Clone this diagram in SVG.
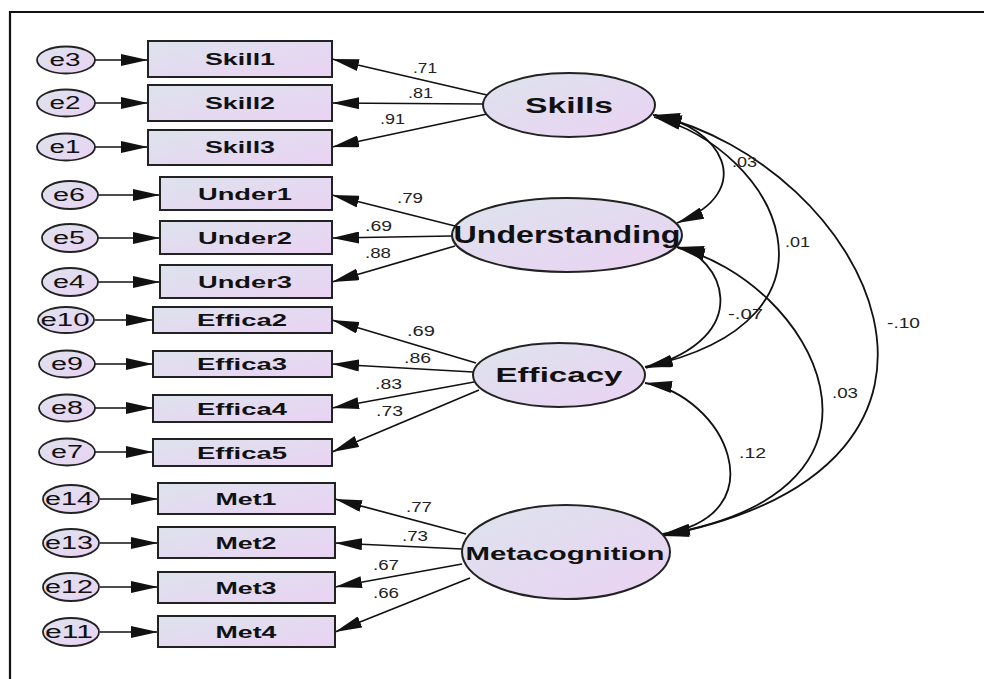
<svg xmlns="http://www.w3.org/2000/svg" width="984" height="679" viewBox="0 0 984 679">
<defs>
<linearGradient id="g" x1="0" y1="0" x2="1" y2="1">
<stop offset="0" stop-color="#dde3ec"/>
<stop offset="1" stop-color="#ead2f4"/>
</linearGradient>
<marker id="ah" viewBox="0 0 27 12" refX="27" refY="6" markerWidth="27" markerHeight="12" markerUnits="userSpaceOnUse" orient="auto-start-reverse">
<path d="M0,0 L27,6 L0,12 Z" fill="#111"/>
</marker>
</defs>
<style>
.box{fill:url(#g);stroke:#222;stroke-width:2}
.lat{fill:url(#g);stroke:#222;stroke-width:2}
.err{fill:url(#g);stroke:#222;stroke-width:1.8}
.ind{font-family:"Liberation Sans",Arial,sans-serif;font-weight:bold;font-size:17px;fill:#111;text-anchor:middle}
.lt{font-family:"Liberation Sans",Arial,sans-serif;font-weight:bold;fill:#111;text-anchor:middle}
.et{font-family:"Liberation Sans",Arial,sans-serif;font-size:18px;fill:#111;text-anchor:middle}
.num{font-family:"Liberation Sans",Arial,sans-serif;font-size:14px;fill:#222}
.ln{stroke:#111;stroke-width:1.7;fill:none;marker-end:url(#ah)}
.cv{stroke:#111;stroke-width:1.8;fill:none;marker-start:url(#ah);marker-end:url(#ah)}
</style>
<rect width="984" height="679" fill="#fff"/>
<path d="M10,679 L10,12 L984,12" fill="none" stroke="#111" stroke-width="2.2"/>

<g id="connectors">
<line class="ln" x1="95" y1="60" x2="148" y2="60"/>
<line class="ln" x1="95" y1="103" x2="148" y2="103"/>
<line class="ln" x1="95" y1="147" x2="148" y2="147"/>
<line class="ln" x1="98" y1="195" x2="160" y2="195"/>
<line class="ln" x1="98" y1="238" x2="160" y2="238"/>
<line class="ln" x1="98" y1="282" x2="160" y2="282"/>
<line class="ln" x1="95" y1="320" x2="153" y2="320"/>
<line class="ln" x1="95" y1="364" x2="153" y2="364"/>
<line class="ln" x1="95" y1="408" x2="153" y2="408"/>
<line class="ln" x1="95" y1="452" x2="153" y2="452"/>
<line class="ln" x1="100" y1="499" x2="158" y2="499"/>
<line class="ln" x1="100" y1="543" x2="158" y2="543"/>
<line class="ln" x1="100" y1="587" x2="158" y2="587"/>
<line class="ln" x1="100" y1="632" x2="158" y2="632"/>

<line class="ln" x1="487" y1="95" x2="332" y2="59"/>
<line class="ln" x1="483" y1="104" x2="332" y2="103"/>
<line class="ln" x1="487" y1="114" x2="332" y2="147"/>
<line class="ln" x1="455" y1="226" x2="332" y2="195"/>
<line class="ln" x1="452" y1="236" x2="332" y2="238"/>
<line class="ln" x1="455" y1="246" x2="332" y2="282"/>
<line class="ln" x1="476" y1="363" x2="332" y2="320"/>
<line class="ln" x1="473" y1="372" x2="332" y2="364"/>
<line class="ln" x1="474" y1="382" x2="332" y2="408"/>
<line class="ln" x1="479" y1="390" x2="332" y2="452"/>
<line class="ln" x1="466" y1="534" x2="335" y2="499"/>
<line class="ln" x1="462" y1="549" x2="335" y2="543"/>
<line class="ln" x1="462" y1="564" x2="335" y2="587"/>
<line class="ln" x1="470" y1="578" x2="335" y2="632"/>

<path class="cv" d="M653,115 C720,125 760,190 677,223"/>
<path class="cv" d="M654,117 C778,150 862,320 645,367"/>
<path class="cv" d="M677,247 C720,255 760,335 646,368"/>
<path class="cv" d="M655,115 C865,165 1025,465 662,536"/>
<path class="cv" d="M678,248 C810,280 930,490 662,535"/>
<path class="cv" d="M645,383 C725,395 780,515 663,534"/>

<text class="num" x="413" y="73" textLength="24" lengthAdjust="spacingAndGlyphs">.71</text>
<text class="num" x="408" y="98" textLength="25" lengthAdjust="spacingAndGlyphs">.81</text>
<text class="num" x="380" y="124" textLength="25" lengthAdjust="spacingAndGlyphs">.91</text>
<text class="num" x="397" y="203" textLength="26" lengthAdjust="spacingAndGlyphs">.79</text>
<text class="num" x="365" y="231" textLength="27" lengthAdjust="spacingAndGlyphs">.69</text>
<text class="num" x="365" y="258" textLength="26" lengthAdjust="spacingAndGlyphs">.88</text>
<text class="num" x="407" y="336" textLength="28" lengthAdjust="spacingAndGlyphs">.69</text>
<text class="num" x="404" y="363" textLength="27" lengthAdjust="spacingAndGlyphs">.86</text>
<text class="num" x="375" y="389" textLength="27" lengthAdjust="spacingAndGlyphs">.83</text>
<text class="num" x="376" y="416" textLength="27" lengthAdjust="spacingAndGlyphs">.73</text>
<text class="num" x="406" y="512" textLength="26" lengthAdjust="spacingAndGlyphs">.77</text>
<text class="num" x="402" y="541" textLength="26" lengthAdjust="spacingAndGlyphs">.73</text>
<text class="num" x="373" y="570" textLength="26" lengthAdjust="spacingAndGlyphs">.67</text>
<text class="num" x="373" y="598" textLength="26" lengthAdjust="spacingAndGlyphs">.66</text>

<text class="num" x="732" y="167" textLength="25" lengthAdjust="spacingAndGlyphs">.03</text>
<text class="num" x="785" y="247" textLength="25" lengthAdjust="spacingAndGlyphs">.01</text>
<text class="num" x="728" y="319" textLength="35" lengthAdjust="spacingAndGlyphs">-.07</text>
<text class="num" x="887" y="328" textLength="33" lengthAdjust="spacingAndGlyphs">-.10</text>
<text class="num" x="832" y="398" textLength="26" lengthAdjust="spacingAndGlyphs">.03</text>
<text class="num" x="739" y="458" textLength="27" lengthAdjust="spacingAndGlyphs">.12</text>
</g>

<g id="e3"><ellipse class="err" cx="66" cy="60" rx="29" ry="13.5"/><text class="et" x="65" y="66" textLength="31" lengthAdjust="spacingAndGlyphs">e3</text></g>
<g id="e2"><ellipse class="err" cx="66" cy="103" rx="29" ry="13.5"/><text class="et" x="65" y="109" textLength="31" lengthAdjust="spacingAndGlyphs">e2</text></g>
<g id="e1"><ellipse class="err" cx="66" cy="147" rx="29" ry="13.5"/><text class="et" x="65" y="153" textLength="31" lengthAdjust="spacingAndGlyphs">e1</text></g>
<g id="e6"><ellipse class="err" cx="70" cy="195" rx="28" ry="14"/><text class="et" x="69" y="201" textLength="32" lengthAdjust="spacingAndGlyphs">e6</text></g>
<g id="e5"><ellipse class="err" cx="70" cy="238" rx="28" ry="14"/><text class="et" x="69" y="244" textLength="32" lengthAdjust="spacingAndGlyphs">e5</text></g>
<g id="e4"><ellipse class="err" cx="70" cy="282" rx="28" ry="14"/><text class="et" x="69" y="288" textLength="32" lengthAdjust="spacingAndGlyphs">e4</text></g>
<g id="e10"><ellipse class="err" cx="66" cy="320" rx="28" ry="13"/><text class="et" x="65" y="326" textLength="49" lengthAdjust="spacingAndGlyphs">e10</text></g>
<g id="e9"><ellipse class="err" cx="67" cy="364" rx="28" ry="13.5"/><text class="et" x="67" y="370" textLength="32" lengthAdjust="spacingAndGlyphs">e9</text></g>
<g id="e8"><ellipse class="err" cx="67" cy="408" rx="28" ry="13.5"/><text class="et" x="67" y="414" textLength="32" lengthAdjust="spacingAndGlyphs">e8</text></g>
<g id="e7"><ellipse class="err" cx="67" cy="452" rx="28" ry="13.5"/><text class="et" x="67" y="458" textLength="32" lengthAdjust="spacingAndGlyphs">e7</text></g>
<g id="e14"><ellipse class="err" cx="71" cy="499" rx="28" ry="14"/><text class="et" x="69" y="505" textLength="48" lengthAdjust="spacingAndGlyphs">e14</text></g>
<g id="e13"><ellipse class="err" cx="71" cy="543" rx="28" ry="14"/><text class="et" x="69" y="549" textLength="48" lengthAdjust="spacingAndGlyphs">e13</text></g>
<g id="e12"><ellipse class="err" cx="71" cy="587" rx="28" ry="14"/><text class="et" x="69" y="593" textLength="48" lengthAdjust="spacingAndGlyphs">e12</text></g>
<g id="e11"><ellipse class="err" cx="71" cy="632" rx="28" ry="14"/><text class="et" x="69" y="638" textLength="48" lengthAdjust="spacingAndGlyphs">e11</text></g>

<g id="Skill1"><rect class="box" x="148" y="41" width="184" height="36"/><text class="ind" x="240" y="65" textLength="70" lengthAdjust="spacingAndGlyphs">Skill1</text></g>
<g id="Skill2"><rect class="box" x="148" y="85" width="184" height="36"/><text class="ind" x="240" y="109" textLength="70" lengthAdjust="spacingAndGlyphs">Skill2</text></g>
<g id="Skill3"><rect class="box" x="148" y="130" width="184" height="35"/><text class="ind" x="240" y="153" textLength="70" lengthAdjust="spacingAndGlyphs">Skill3</text></g>
<g id="Under1"><rect class="box" x="160" y="177" width="172" height="33"/><text class="ind" x="245" y="200" textLength="94" lengthAdjust="spacingAndGlyphs">Under1</text></g>
<g id="Under2"><rect class="box" x="160" y="221" width="172" height="33"/><text class="ind" x="245" y="244" textLength="94" lengthAdjust="spacingAndGlyphs">Under2</text></g>
<g id="Under3"><rect class="box" x="160" y="265" width="172" height="33"/><text class="ind" x="245" y="288" textLength="94" lengthAdjust="spacingAndGlyphs">Under3</text></g>
<g id="Effica2"><rect class="box" x="153" y="307" width="179" height="26"/><text class="ind" x="242" y="326" textLength="90" lengthAdjust="spacingAndGlyphs">Effica2</text></g>
<g id="Effica3"><rect class="box" x="153" y="351" width="179" height="26"/><text class="ind" x="242" y="370" textLength="90" lengthAdjust="spacingAndGlyphs">Effica3</text></g>
<g id="Effica4"><rect class="box" x="153" y="395" width="179" height="27"/><text class="ind" x="242" y="415" textLength="90" lengthAdjust="spacingAndGlyphs">Effica4</text></g>
<g id="Effica5"><rect class="box" x="153" y="439" width="179" height="27"/><text class="ind" x="242" y="459" textLength="90" lengthAdjust="spacingAndGlyphs">Effica5</text></g>
<g id="Met1"><rect class="box" x="158" y="483" width="177" height="31"/><text class="ind" x="246" y="505" textLength="61" lengthAdjust="spacingAndGlyphs">Met1</text></g>
<g id="Met2"><rect class="box" x="158" y="527" width="177" height="31"/><text class="ind" x="246" y="549" textLength="61" lengthAdjust="spacingAndGlyphs">Met2</text></g>
<g id="Met3"><rect class="box" x="158" y="572" width="177" height="31"/><text class="ind" x="246" y="594" textLength="61" lengthAdjust="spacingAndGlyphs">Met3</text></g>
<g id="Met4"><rect class="box" x="158" y="616" width="177" height="31"/><text class="ind" x="246" y="638" textLength="61" lengthAdjust="spacingAndGlyphs">Met4</text></g>

<g id="Skills"><ellipse class="lat" cx="569" cy="105" rx="86" ry="32"/><text class="lt" x="569" y="113" font-size="22" textLength="88" lengthAdjust="spacingAndGlyphs">Skills</text></g>
<g id="Understanding"><ellipse class="lat" cx="567" cy="235" rx="115" ry="37"/><text class="lt" x="567" y="243" font-size="24" textLength="227" lengthAdjust="spacingAndGlyphs">Understanding</text></g>
<g id="Efficacy"><ellipse class="lat" cx="559" cy="375" rx="86" ry="32"/><text class="lt" x="559" y="382" font-size="21" textLength="127" lengthAdjust="spacingAndGlyphs">Efficacy</text></g>
<g id="Metacognition"><ellipse class="lat" cx="566" cy="552" rx="104" ry="47"/><text class="lt" x="565" y="560" font-size="19" textLength="199" lengthAdjust="spacingAndGlyphs">Metacognition</text></g>
</svg>
